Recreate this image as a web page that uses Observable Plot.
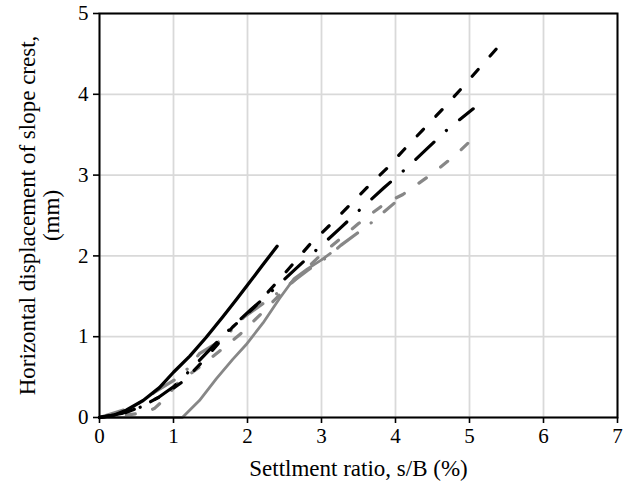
<!DOCTYPE html>
<html>
<head>
<meta charset="utf-8">
<script src="https://cdn.jsdelivr.net/npm/d3@7"></script>
<script src="https://cdn.jsdelivr.net/npm/@observablehq/plot@0.6"></script>
<style>
  html, body { margin: 0; padding: 0; background: #fff; }
  svg { display: block; }
</style>
</head>
<body>
<div id="chart"></div>
<script>
// Series (x: settlement ratio %, y: horizontal displacement mm)
const blackSolidX = [0, 0.2, 0.36, 0.59, 0.81, 1.0, 1.22, 1.44, 1.67, 1.85, 2.0, 2.2, 2.4];
const blackSolidY = [0, 0.03, 0.09, 0.21, 0.37, 0.56, 0.76, 0.99, 1.25, 1.46, 1.64, 1.88, 2.12];

const greySolidX = [0, 1.12, 1.35, 1.58, 1.8, 1.98, 2.21, 2.43, 2.63, 2.81, 3.0, 3.12];
const greySolidY = [0, 0, 0.21, 0.48, 0.72, 0.9, 1.17, 1.47, 1.72, 1.84, 1.95, 2.03];

const blackDashX = [0, 0.3, 0.6, 0.9, 1.15, 1.4, 1.8, 2.1, 2.5, 2.84, 3.1, 3.36, 3.62, 3.88, 4.12, 4.37, 4.62, 4.87, 5.12, 5.42];
const blackDashY = [0, 0.04, 0.15, 0.3, 0.46, 0.7, 1.12, 1.37, 1.78, 2.14, 2.37, 2.61, 2.85, 3.08, 3.32, 3.56, 3.8, 4.05, 4.31, 4.62];

const blackDashDotX = [0, 0.3, 0.56, 0.8, 1.0, 1.22, 1.5, 1.8, 2.04, 2.36, 2.65, 2.95, 3.25, 3.54, 3.84, 4.14, 4.43, 4.72, 5.05];
const blackDashDotY = [0, 0.05, 0.13, 0.25, 0.38, 0.58, 0.85, 1.13, 1.33, 1.59, 1.84, 2.09, 2.34, 2.59, 2.84, 3.08, 3.33, 3.58, 3.82];

const greyDashX = [0, 0.3, 0.6, 0.74, 0.86, 1.05, 1.33, 1.62, 1.9, 2.18, 2.5, 3.0, 3.5, 3.86, 4.1, 4.5, 4.8, 5.1];
const greyDashY = [0, 0.02, 0.06, 0.11, 0.21, 0.42, 0.61, 0.82, 1.03, 1.28, 1.58, 2.02, 2.4, 2.65, 2.76, 3.02, 3.24, 3.5];

const greyDashDotX = [0, 0.35, 0.56, 0.74, 1.04, 1.21, 1.35, 1.67, 1.95, 2.27, 2.45, 2.81, 3.1, 3.26, 3.66, 3.98];
const greyDashDotY = [0, 0.1, 0.19, 0.31, 0.48, 0.62, 0.79, 0.97, 1.24, 1.45, 1.57, 1.82, 2.0, 2.13, 2.4, 2.65];

const xTicks = [0, 1, 2, 3, 4, 5, 6, 7];
const yTicks = [0, 1, 2, 3, 4, 5];
const xLabel = "Settlment ratio, s/B (%)";
const yLabel = "Horizontal displacement of slope crest,\n(mm)";

const toRows = (xs, ys) => xs.map((x, i) => ({x, y: ys[i]}));

const BLACK = "#000000";
const GREY = "#878787";
const FONT = "'Liberation Serif', 'Times New Roman', serif";

const series = [
  {rows: toRows(greySolidX, greySolidY), stroke: GREY, dash: null, w: 2.8},
  {rows: toRows(greyDashDotX, greyDashDotY), stroke: GREY, dash: "25,17,0.1,17", w: 3.2},
  {rows: toRows(greyDashX, greyDashY), stroke: GREY, dash: "9,18", w: 3.2},
  {rows: toRows(blackDashDotX, blackDashDotY), stroke: BLACK, dash: "25,17,0.1,17", w: 3.2},
  {rows: toRows(blackDashX, blackDashY), stroke: BLACK, dash: "9,18", w: 3.2},
  {rows: toRows(blackSolidX, blackSolidY), stroke: BLACK, dash: null, w: 3.3}
];

const chart = Plot.plot({
  width: 628,
  height: 488,
  marginLeft: 99,
  marginRight: 11,
  marginTop: 13,
  marginBottom: 71,
  style: {fontFamily: FONT, background: "#fff"},
  x: {domain: [0, 7], ticks: xTicks},
  y: {domain: [0, 5], ticks: yTicks},
  marks: [
    Plot.gridX(xTicks, {stroke: "#d9d9d9", strokeOpacity: 1, strokeWidth: 1.8}),
    Plot.gridY(yTicks, {stroke: "#d9d9d9", strokeOpacity: 1, strokeWidth: 1.8}),
    ...series.map(s => Plot.line(s.rows, {
      x: "x", y: "y", stroke: s.stroke, strokeWidth: s.w,
      strokeDasharray: s.dash, strokeLinecap: "round", strokeLinejoin: "round", curve: "linear"
    })),
    Plot.frame({stroke: BLACK, strokeWidth: 2}),
    Plot.axisX(xTicks, {tickSize: 6, tickPadding: 5, fontSize: 21, fontFamily: FONT, fill: "#000", stroke: BLACK, strokeWidth: 1.6, label: null, tickFormat: d => String(d)}),
    Plot.axisY(yTicks, {tickSize: 6, tickPadding: 5, fontSize: 21, fontFamily: FONT, fill: "#000", stroke: BLACK, strokeWidth: 1.6, label: null, tickFormat: d => String(d)}),
    Plot.text([xLabel], {frameAnchor: "bottom", dy: 51, text: d => d, fontSize: 23, fontFamily: FONT, fill: "#000", lineAnchor: "middle"}),
    Plot.text([yLabel], {frameAnchor: "left", dx: -60, rotate: -90, text: d => d, textAnchor: "middle", fontSize: 23, fontFamily: FONT, fill: "#000", lineAnchor: "middle", lineHeight: 1.05})
  ]
});

document.getElementById("chart").appendChild(chart);
</script>
</body>
</html>
